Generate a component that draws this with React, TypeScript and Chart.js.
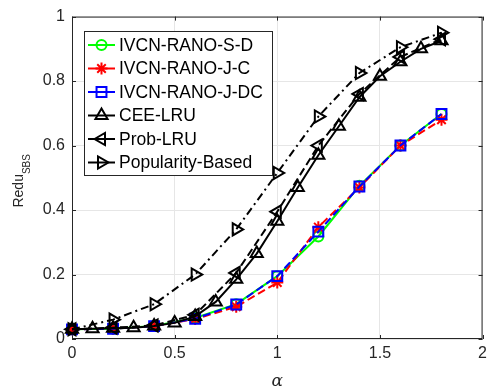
import React, { useEffect, useRef } from "react";
import { Chart, registerables } from "chart.js";

Chart.register(...registerables);

// ---- data ----
const alphaCoarse = [0, 0.2, 0.4, 0.6, 0.8, 1.0, 1.2, 1.4, 1.6, 1.8];
const alphaFine = [0, 0.1, 0.2, 0.3, 0.4, 0.5, 0.6, 0.7, 0.8, 0.9, 1.0, 1.1, 1.2, 1.3, 1.4, 1.5, 1.6, 1.7, 1.8];

const ivcnSD = [0.03, 0.032, 0.04, 0.065, 0.108, 0.195, 0.318, 0.475, 0.6, 0.698];
const ivcnJC = [0.03, 0.032, 0.04, 0.062, 0.1, 0.175, 0.347, 0.47, 0.6, 0.68];
const ivcnJDC = [0.03, 0.032, 0.04, 0.063, 0.107, 0.195, 0.333, 0.473, 0.6, 0.698];
const ceeLRU = [0.03, 0.032, 0.033, 0.035, 0.04, 0.05, 0.07, 0.115, 0.185, 0.265, 0.365, 0.47, 0.57, 0.66, 0.75, 0.815, 0.86, 0.9, 0.925];
const probLRU = [0.03, 0.035, 0.042, 0.075, 0.205, 0.395, 0.6, 0.76, 0.875, 0.93];
const popularity = [0.03, 0.06, 0.108, 0.2, 0.34, 0.515, 0.69, 0.825, 0.905, 0.95];

const xTicks = [0, 0.5, 1, 1.5, 2];
const yTicks = [0, 0.2, 0.4, 0.6, 0.8, 1];

const seriesNames = [
  "IVCN-RANO-S-D",
  "IVCN-RANO-J-C",
  "IVCN-RANO-J-DC",
  "CEE-LRU",
  "Prob-LRU",
  "Popularity-Based",
];

type Style = {
  color: string;
  dash: number[];
  point: string;
  radius: number;
  rotation: number;
};

const styles: Style[] = [
  { color: "#00ff00", dash: [], point: "circle", radius: 5, rotation: 0 },
  { color: "#ff0000", dash: [8, 4], point: "star", radius: 6, rotation: 0 },
  { color: "#0000ff", dash: [8, 4], point: "rect", radius: 7, rotation: 0 },
  { color: "#000000", dash: [], point: "triangle", radius: 7, rotation: 0 },
  { color: "#000000", dash: [8, 4], point: "triangle", radius: 7, rotation: -90 },
  { color: "#000000", dash: [8, 4, 2, 4], point: "triangle", radius: 7, rotation: 90 },
];

const FONT = "'Liberation Sans', Arial, sans-serif";

function drawMarker(ctx: CanvasRenderingContext2D, s: Style, x: number, y: number) {
  ctx.save();
  ctx.setLineDash([]);
  ctx.strokeStyle = s.color;
  ctx.lineWidth = 2;
  ctx.beginPath();
  const r = s.radius;
  if (s.point === "circle") {
    ctx.arc(x, y, r, 0, Math.PI * 2);
  } else if (s.point === "rect") {
    const h = r * Math.SQRT1_2;
    ctx.rect(x - h, y - h, 2 * h, 2 * h);
  } else if (s.point === "star") {
    const h = r * Math.SQRT1_2;
    ctx.moveTo(x - r, y); ctx.lineTo(x + r, y);
    ctx.moveTo(x, y - r); ctx.lineTo(x, y + r);
    ctx.moveTo(x - h, y - h); ctx.lineTo(x + h, y + h);
    ctx.moveTo(x - h, y + h); ctx.lineTo(x + h, y - h);
  } else {
    let rad = (s.rotation * Math.PI) / 180;
    ctx.moveTo(x + Math.sin(rad) * r, y - Math.cos(rad) * r);
    rad += (2 * Math.PI) / 3;
    ctx.lineTo(x + Math.sin(rad) * r, y - Math.cos(rad) * r);
    rad += (2 * Math.PI) / 3;
    ctx.lineTo(x + Math.sin(rad) * r, y - Math.cos(rad) * r);
    ctx.closePath();
  }
  ctx.stroke();
  ctx.restore();
}

const frameAndLabels = {
  id: "frameAndLabels",
  beforeDatasetsDraw(chart: any) {
    const { ctx, chartArea: a, scales } = chart;
    ctx.save();
    ctx.strokeStyle = "#262626";
    ctx.lineWidth = 1;
    ctx.setLineDash([]);
    ctx.strokeRect(a.left + 0.5, a.top + 0.5, a.right - a.left - 1, a.bottom - a.top - 1);
    const tl = 4;
    ctx.beginPath();
    xTicks.forEach((v) => {
      const px = Math.round(scales.x.getPixelForValue(v)) + 0.5;
      ctx.moveTo(px, a.bottom); ctx.lineTo(px, a.bottom - tl);
      ctx.moveTo(px, a.top); ctx.lineTo(px, a.top + tl);
    });
    yTicks.forEach((v) => {
      const py = Math.round(scales.y.getPixelForValue(v)) + 0.5;
      ctx.moveTo(a.left, py); ctx.lineTo(a.left + tl, py);
      ctx.moveTo(a.right, py); ctx.lineTo(a.right - tl, py);
    });
    ctx.stroke();

    // axis titles
    ctx.fillStyle = "#262626";
    ctx.font = "italic 17px 'DejaVu Serif', serif";
    ctx.textAlign = "center";
    ctx.textBaseline = "middle";
    ctx.fillText("α", (a.left + a.right) / 2, 382);

    const main = "Redu";
    const sub = "SBS";
    ctx.font = `14px ${FONT}`;
    const w1 = ctx.measureText(main).width;
    ctx.font = `10px ${FONT}`;
    const w2 = ctx.measureText(sub).width;
    const cy = (a.top + a.bottom) / 2 + 3;
    ctx.translate(19, cy);
    ctx.rotate(-Math.PI / 2);
    ctx.textAlign = "left";
    ctx.font = `14px ${FONT}`;
    ctx.fillText(main, -(w1 + w2) / 2, 0);
    ctx.font = `10px ${FONT}`;
    ctx.fillText(sub, -(w1 + w2) / 2 + w1, 8);
    ctx.restore();
  },
  afterDraw(chart: any) {
    const { ctx } = chart;
    ctx.save();
    const bx = 84, by = 31, bw = 188, bh = 144;
    ctx.fillStyle = "#ffffff";
    ctx.fillRect(bx, by, bw, bh);
    ctx.strokeStyle = "#262626";
    ctx.lineWidth = 1;
    ctx.strokeRect(bx + 0.5, by + 0.5, bw, bh);
    const rowH = 23.5;
    seriesNames.forEach((name, i) => {
      const s = styles[i];
      const y = by + 14 + i * rowH;
      ctx.strokeStyle = s.color;
      ctx.lineWidth = 2;
      ctx.setLineDash([]);
      ctx.beginPath();
      ctx.moveTo(88, y);
      ctx.lineTo(115, y);
      ctx.stroke();
      drawMarker(ctx, s, 101.5, y);
      ctx.fillStyle = "#000000";
      ctx.font = `17.5px ${FONT}`;
      ctx.textAlign = "left";
      ctx.textBaseline = "middle";
      ctx.fillText(name, 119, y + 1);
    });
    ctx.restore();
  },
};

function makeDataset(i: number, xs: number[], ys: number[]) {
  const s = styles[i];
  return {
    label: seriesNames[i],
    data: xs.map((x, k) => ({ x, y: ys[k] })),
    borderColor: s.color,
    borderWidth: 2,
    borderDash: s.dash,
    backgroundColor: "transparent",
    pointStyle: s.point,
    pointRadius: s.radius,
    pointRotation: s.rotation,
    pointBorderColor: s.color,
    pointBorderWidth: 2,
    pointBackgroundColor: "transparent",
    fill: false,
    tension: 0,
    clip: false,
    order: 6 - i,
  };
}

export default function App() {
  const ref = useRef<HTMLCanvasElement | null>(null);
  useEffect(() => {
    document.body.style.margin = "0";
    const canvas = ref.current!;
    const chart = new Chart(canvas, {
      type: "line",
      data: {
        datasets: [
          makeDataset(0, alphaCoarse, ivcnSD),
          makeDataset(1, alphaCoarse, ivcnJC),
          makeDataset(2, alphaCoarse, ivcnJDC),
          makeDataset(3, alphaFine, ceeLRU),
          makeDataset(4, alphaCoarse, probLRU),
          makeDataset(5, alphaCoarse, popularity),
        ] as any,
      },
      options: {
        animation: false,
        responsive: false,
        devicePixelRatio: 1,
        layout: { padding: { top: 16, right: 2, left: 0, bottom: 0 } },
        plugins: { legend: { display: false }, tooltip: { enabled: false } },
        scales: {
          x: {
            type: "linear",
            min: 0,
            max: 2,
            afterBuildTicks: (s: any) => {
              s.ticks = xTicks.map((v) => ({ value: v }));
            },
            afterFit: (s: any) => {
              s.height = 49;
            },
            ticks: {
              autoSkip: false,
              maxRotation: 0,
              padding: 5,
              color: "#262626",
              font: { family: FONT, size: 16 },
              callback: (v: any) => String(v),
            },
            grid: { color: "#e6e6e6", drawTicks: false },
            border: { display: false },
          },
          y: {
            type: "linear",
            min: 0,
            max: 1,
            afterBuildTicks: (s: any) => {
              s.ticks = yTicks.map((v) => ({ value: v }));
            },
            afterFit: (s: any) => {
              s.width = 72;
            },
            ticks: {
              autoSkip: false,
              padding: 7,
              color: "#262626",
              font: { family: FONT, size: 16 },
              callback: (v: any) => String(v),
            },
            grid: { color: "#e6e6e6", drawTicks: false },
            border: { display: false },
          },
        },
      } as any,
      plugins: [frameAndLabels],
    });
    return () => chart.destroy();
  }, []);
  return (
    <div style={{ width: 492, height: 388 }}>
      <canvas ref={ref} width={492} height={388} style={{ display: "block" }} />
    </div>
  );
}
